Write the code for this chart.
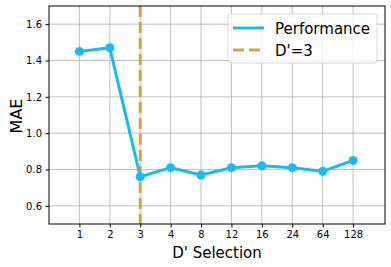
<!DOCTYPE html>
<html>
<head>
<meta charset="utf-8">
<script src="https://cdn.jsdelivr.net/npm/d3@7"></script>
<style>
  body { margin: 0; background: #fff; }
  svg { display: block; font-family: "DejaVu Sans", sans-serif; }
</style>
</head>
<body>
<script>
const categories = ["1", "2", "3", "4", "8", "12", "16", "24", "64", "128"];
const mae = [1.45, 1.47, 0.76, 0.81, 0.77, 0.81, 0.82, 0.81, 0.79, 0.85];
const yTicks = [0.6, 0.8, 1.0, 1.2, 1.4, 1.6];
const markerCategory = "3";

const width = 391;
const height = 267;
const margin = { left: 49, right: 6, top: 6, bottom: 43 };

const lineColor = "#16bcef";
const dashColor = "#d6a432";

const svg = d3
  .select("body")
  .append("svg")
  .attr("width", width)
  .attr("height", height);

const xScale = d3
  .scaleLinear()
  .domain([-1, 10.05])
  .range([margin.left, width - margin.right]);

const yScale = d3
  .scaleLinear()
  .domain([0.5, 1.7])
  .range([height - margin.bottom, margin.top]);

// grid
svg
  .append("g")
  .selectAll("line")
  .data(categories)
  .enter()
  .append("line")
  .attr("x1", (d, i) => xScale(i))
  .attr("x2", (d, i) => xScale(i))
  .attr("y1", margin.top)
  .attr("y2", height - margin.bottom)
  .attr("stroke", "#b0b0b0")
  .attr("stroke-width", 0.8);

svg
  .append("g")
  .selectAll("line")
  .data(yTicks)
  .enter()
  .append("line")
  .attr("x1", margin.left)
  .attr("x2", width - margin.right)
  .attr("y1", (d) => yScale(d))
  .attr("y2", (d) => yScale(d))
  .attr("stroke", "#b0b0b0")
  .attr("stroke-width", 0.8);

// axes
const xAxis = d3
  .axisBottom(xScale)
  .tickValues(d3.range(categories.length))
  .tickFormat((i) => categories[i])
  .tickSize(3.5)
  .tickPadding(3.5);

const yAxis = d3
  .axisLeft(yScale)
  .tickValues(yTicks)
  .tickFormat(d3.format(".1f"))
  .tickSize(3.5)
  .tickPadding(3.5);

svg
  .append("g")
  .attr("transform", `translate(0, ${height - margin.bottom})`)
  .call(xAxis)
  .call((g) => g.select(".domain").remove())
  .style("font-size", "10px")
  .style("font-family", "DejaVu Sans")
  .selectAll("text")
  .attr("fill", "#000");

svg
  .append("g")
  .attr("transform", `translate(${margin.left}, 0)`)
  .call(yAxis)
  .call((g) => g.select(".domain").remove())
  .style("font-size", "10px")
  .style("font-family", "DejaVu Sans")
  .selectAll("text")
  .attr("fill", "#000");

// vertical dashed line
const markX = xScale(categories.indexOf(markerCategory));
svg
  .append("line")
  .attr("x1", markX)
  .attr("x2", markX)
  .attr("y1", margin.top)
  .attr("y2", height - margin.bottom)
  .attr("stroke", dashColor)
  .attr("stroke-width", 3)
  .attr("stroke-dasharray", "11,5");

// series line + markers
const line = d3
  .line()
  .x((d, i) => xScale(i))
  .y((d) => yScale(d));

svg
  .append("path")
  .datum(mae)
  .attr("d", line)
  .attr("fill", "none")
  .attr("stroke", lineColor)
  .attr("stroke-width", 3)
  .attr("stroke-linejoin", "round");

svg
  .selectAll("circle.dot")
  .data(mae)
  .enter()
  .append("circle")
  .attr("class", "dot")
  .attr("cx", (d, i) => xScale(i))
  .attr("cy", (d) => yScale(d))
  .attr("r", 4.5)
  .attr("fill", lineColor);

// frame
svg
  .append("rect")
  .attr("x", margin.left)
  .attr("y", margin.top)
  .attr("width", width - margin.left - margin.right)
  .attr("height", height - margin.top - margin.bottom)
  .attr("fill", "none")
  .attr("stroke", "#000")
  .attr("stroke-width", 1);

// labels
svg
  .append("text")
  .text("D' Selection")
  .attr("x", (margin.left + width - margin.right) / 2)
  .attr("y", 258)
  .attr("text-anchor", "middle")
  .attr("font-size", "15px");

svg
  .append("text")
  .text("MAE")
  .attr("transform", `translate(22, ${(margin.top + height - margin.bottom) / 2 + 1}) rotate(-90)`)
  .attr("text-anchor", "middle")
  .attr("font-size", "16px");

// legend
const legend = svg.append("g").attr("transform", "translate(228, 14)");
legend
  .append("rect")
  .attr("width", 149)
  .attr("height", 49)
  .attr("rx", 3)
  .attr("fill", "#fff")
  .attr("fill-opacity", 0.8)
  .attr("stroke", "#d9d9d9");

legend
  .append("line")
  .attr("x1", 5)
  .attr("x2", 36)
  .attr("y1", 14)
  .attr("y2", 14)
  .attr("stroke", lineColor)
  .attr("stroke-width", 3);

legend
  .append("line")
  .attr("x1", 5)
  .attr("x2", 36)
  .attr("y1", 36)
  .attr("y2", 36)
  .attr("stroke", dashColor)
  .attr("stroke-width", 3)
  .attr("stroke-dasharray", "11,5");

legend
  .append("text")
  .text("Performance")
  .attr("x", 47)
  .attr("y", 19.5)
  .attr("font-size", "15px");

legend
  .append("text")
  .text("D'=3")
  .attr("x", 47)
  .attr("y", 41.5)
  .attr("font-size", "15px");
</script>
</body>
</html>
